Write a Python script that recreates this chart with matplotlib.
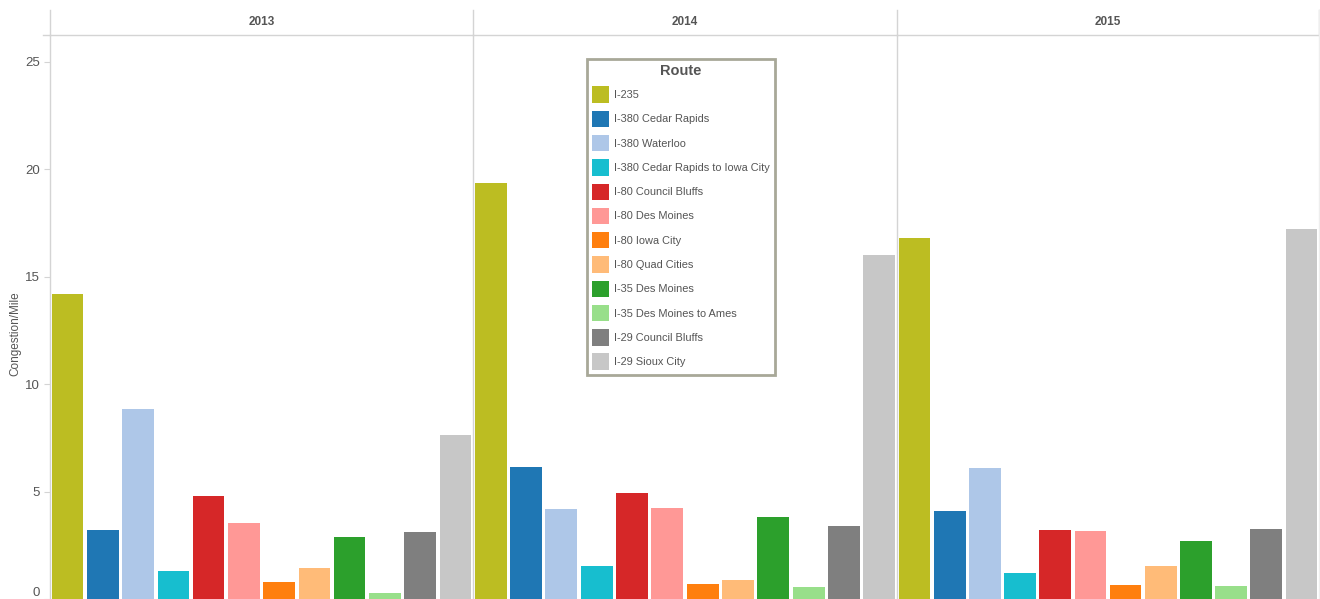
import numpy as np
import matplotlib
matplotlib.use('Agg')
from matplotlib import pyplot as plt
from matplotlib.patches import Patch
from matplotlib.lines import Line2D

plt.rcParams['font.family'] = ['Liberation Sans', 'DejaVu Sans']

# Data
years = ['2013', '2014', '2015']
routes = ['I-235', 'I-380 Cedar Rapids', 'I-380 Waterloo', 'I-380 Cedar Rapids to Iowa City',
          'I-80 Council Bluffs', 'I-80 Des Moines', 'I-80 Iowa City', 'I-80 Quad Cities',
          'I-35 Des Moines', 'I-35 Des Moines to Ames', 'I-29 Council Bluffs', 'I-29 Sioux City']
values_2013 = [14.2, 3.2, 8.85, 1.3, 4.8, 3.55, 0.8, 1.45, 2.9, 0.3, 3.1, 7.65]
values_2014 = [19.35, 6.15, 4.2, 1.55, 4.95, 4.25, 0.7, 0.9, 3.8, 0.55, 3.4, 16.0]
values_2015 = [16.8, 4.1, 6.1, 1.2, 3.2, 3.15, 0.65, 1.55, 2.7, 0.6, 3.25, 17.2]
route_colors = ['#bcbd22', '#1f77b4', '#aec7e8', '#17becf', '#d62728', '#ff9896',
                '#ff7f0e', '#ffbb78', '#2ca02c', '#98df8a', '#7f7f7f', '#c7c7c7']

all_values = [values_2013, values_2014, values_2015]

W, H = 1320, 599
fig = plt.figure(figsize=(W / 100, H / 100), dpi=100)

line_col = '#d4d4d4'
text_col = '#555555'

# panel edges in pixels
edges = [50, 473, 897, 1319]
y_bottom, y_header, y_top = 599, 35, 10
ymax = 26.25

axes = []
for i, yr in enumerate(years):
    x0, x1 = edges[i], edges[i + 1]
    ax = fig.add_axes([x0 / W, 0, (x1 - x0) / W, (H - y_header) / H])
    x = np.arange(len(routes))
    ax.bar(x, all_values[i], width=0.9, color=route_colors)
    ax.set_xlim(-0.5, len(routes) - 0.5)
    ax.set_ylim(0, ymax)
    ax.set_xticks([])
    for s in ['top', 'bottom', 'right']:
        ax.spines[s].set_visible(False)
    ax.spines['left'].set_color(line_col)
    ax.spines['left'].set_linewidth(1)
    if i == 0:
        ax.set_yticks([0, 5, 10, 15, 20, 25])
        ax.tick_params(axis='y', colors=line_col, labelcolor=text_col, labelsize=9.5, length=4, width=0.8)
        ax.get_yticklabels()[0].set_verticalalignment('bottom')
    else:
        ax.set_yticks([])
    # header text
    fig.text((x0 + x1) / 2 / W, 1 - 22 / H, yr, ha='center', va='center',
             fontsize=8.5, fontweight='bold', color=text_col)
    axes.append(ax)

fig.text(15 / W, 1 - 334 / H, 'Congestion/Mile', rotation=90, ha='center', va='center',
         fontsize=8.5, color=text_col)

# header lines
fig.add_artist(Line2D([43 / W, 1], [1 - y_header / H] * 2, color=line_col, lw=1))
for e in edges[:-1] + [edges[-1]]:
    fig.add_artist(Line2D([e / W, e / W], [1 - y_header / H, 1 - y_top / H], color=line_col, lw=1))
fig.add_artist(Line2D([edges[-1] / W] * 2, [0, 1 - y_top / H], color='#eeeeee', lw=1))

# legend
handles = [Patch(facecolor=c, edgecolor='none') for c in route_colors]
leg = fig.legend(handles, routes, title='Route', loc='upper left',
                 bbox_to_anchor=(587 / W, 1 - 59 / H), fontsize=7.9,
                 title_fontproperties={'size': 10.5, 'weight': 'bold'},
                 handlelength=1.47, handleheight=1.92, labelspacing=0.72,
                 handletextpad=0.45, borderpad=0.5, borderaxespad=0,
                 fancybox=False, framealpha=1, edgecolor='#a8a898')
leg.get_frame().set_linewidth(2)
leg.get_title().set_color(text_col)
for t in leg.get_texts():
    t.set_color(text_col)

plt.savefig('out.png', dpi=100)
